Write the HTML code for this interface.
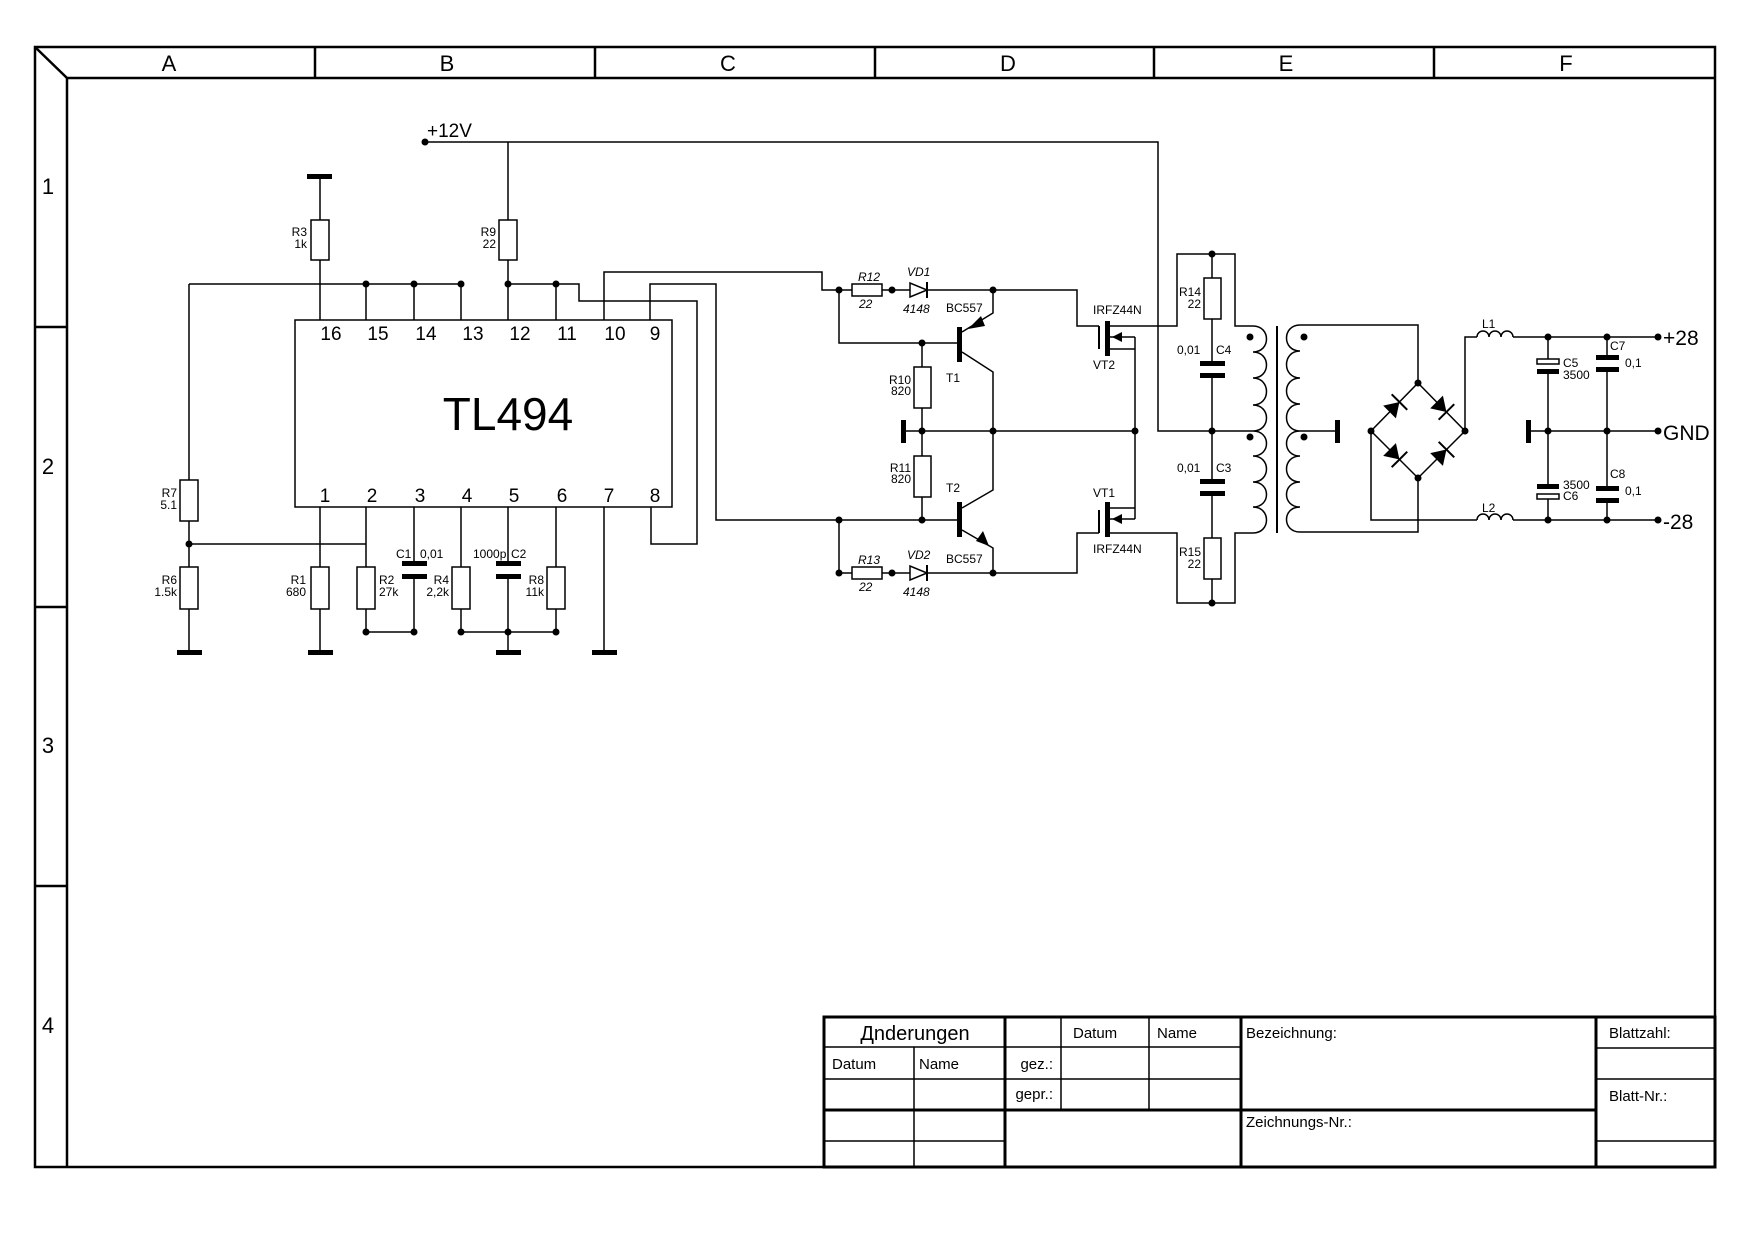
<!DOCTYPE html>
<html><head><meta charset="utf-8"><style>
html,body{margin:0;padding:0;background:#fff}
svg{display:block}
text{font-family:"Liberation Sans",sans-serif;fill:#000}
</style></head><body>
<svg width="1754" height="1240" viewBox="0 0 1754 1240" xmlns="http://www.w3.org/2000/svg">
<rect width="1754" height="1240" fill="#fff"/>
<!-- frame -->
<g stroke="#000" fill="none" stroke-width="2.5">
<rect x="35" y="47" width="1680" height="1120"/>
<line x1="67" y1="78" x2="67" y2="1167"/>
<line x1="67" y1="78" x2="1715" y2="78"/>
<line x1="35" y1="47" x2="67" y2="78"/>
<line x1="315" y1="47" x2="315" y2="78"/><line x1="595" y1="47" x2="595" y2="78"/>
<line x1="875" y1="47" x2="875" y2="78"/><line x1="1154" y1="47" x2="1154" y2="78"/>
<line x1="1434" y1="47" x2="1434" y2="78"/>
<line x1="35" y1="327" x2="67" y2="327"/><line x1="35" y1="607" x2="67" y2="607"/>
<line x1="35" y1="886" x2="67" y2="886"/>
</g>
<g font-size="22" text-anchor="middle">
<text x="169" y="71">A</text><text x="447" y="71">B</text><text x="728" y="71">C</text>
<text x="1008" y="71">D</text><text x="1286" y="71">E</text><text x="1566" y="71">F</text>
<text x="48" y="194">1</text><text x="48" y="474">2</text><text x="48" y="753">3</text><text x="48" y="1033">4</text>
</g>
<!-- title block -->
<g stroke="#000" fill="none">
<g stroke-width="3">
<rect x="824" y="1017" width="891" height="150"/>
<line x1="1005" y1="1017" x2="1005" y2="1167"/>
<line x1="1241" y1="1017" x2="1241" y2="1167"/>
<line x1="1596" y1="1017" x2="1596" y2="1167"/>
<line x1="1005" y1="1110" x2="1596" y2="1110"/>
<line x1="824" y1="1110" x2="1005" y2="1110"/>
</g>
<g stroke-width="1.5">
<line x1="824" y1="1047" x2="1241" y2="1047"/>
<line x1="824" y1="1079" x2="1241" y2="1079"/>
<line x1="824" y1="1141" x2="1005" y2="1141"/>
<line x1="914" y1="1047" x2="914" y2="1167"/>
<line x1="1061" y1="1017" x2="1061" y2="1110"/>
<line x1="1149" y1="1017" x2="1149" y2="1110"/>
<line x1="1596" y1="1048" x2="1715" y2="1048"/>
<line x1="1596" y1="1079" x2="1715" y2="1079"/>
<line x1="1596" y1="1141" x2="1715" y2="1141"/>
</g>
</g>
<g font-size="15">
<text x="915" y="1040" font-size="20" text-anchor="middle">Дnderungen</text>
<text x="832" y="1069">Datum</text><text x="919" y="1069">Name</text>
<text x="1053" y="1069" text-anchor="end">gez.:</text>
<text x="1053" y="1099" text-anchor="end">gepr.:</text>
<text x="1073" y="1038">Datum</text><text x="1157" y="1038">Name</text>
<text x="1246" y="1038">Bezeichnung:</text>
<text x="1246" y="1127">Zeichnungs-Nr.:</text>
<text x="1609" y="1038">Blattzahl:</text>
<text x="1609" y="1101">Blatt-Nr.:</text>
</g>

<!-- circuit wires -->
<g stroke="#000" fill="none" stroke-width="1.5">
<polyline points="425,142 1158,142 1158,431 1253,431"/>
<line x1="508" y1="142" x2="508" y2="220"/><line x1="508" y1="260" x2="508" y2="320"/>
<line x1="320" y1="176" x2="320" y2="220"/><line x1="320" y1="260" x2="320" y2="320"/>
<line x1="189" y1="284" x2="461" y2="284"/>
<line x1="366" y1="284" x2="366" y2="320"/><line x1="414" y1="284" x2="414" y2="320"/><line x1="461" y1="284" x2="461" y2="320"/>
<line x1="189" y1="284" x2="189" y2="480"/><line x1="189" y1="521" x2="189" y2="567"/><line x1="189" y1="609" x2="189" y2="652"/>
<line x1="189" y1="544" x2="366" y2="544"/>
<line x1="320" y1="507" x2="320" y2="567"/><line x1="320" y1="609" x2="320" y2="652"/>
<line x1="366" y1="507" x2="366" y2="567"/><polyline points="366,609 366,632 414,632"/>
<line x1="414" y1="507" x2="414" y2="564"/><line x1="414" y1="576" x2="414" y2="632"/>
<line x1="461" y1="507" x2="461" y2="567"/><polyline points="461,609 461,632 556,632"/>
<line x1="508" y1="507" x2="508" y2="564"/><line x1="508" y1="576" x2="508" y2="652"/>
<line x1="556" y1="507" x2="556" y2="567"/><line x1="556" y1="609" x2="556" y2="632"/>
<line x1="604" y1="507" x2="604" y2="652"/>
<polyline points="508,284 579,284 579,301 697,301 697,544 651,544 651,507"/>
<line x1="556" y1="284" x2="556" y2="320"/>
<polyline points="604,320 604,272 822,272 822,290 852,290"/>
<polyline points="650,320 650,284 716,284 716,520 959,520"/>
<rect x="295" y="320" width="377" height="187"/>
<!-- resistors -->
<rect x="311" y="220" width="18" height="40"/><rect x="499" y="220" width="18" height="40"/>
<rect x="180" y="480" width="18" height="41"/><rect x="180" y="567" width="18" height="42"/>
<rect x="311" y="567" width="18" height="42"/><rect x="357" y="567" width="18" height="42"/>
<rect x="452" y="567" width="18" height="42"/><rect x="547" y="567" width="18" height="42"/>
<!-- driver -->
<line x1="882" y1="290" x2="910" y2="290"/>
<polygon points="910,283 910,297 927,290"/>
<polyline points="927,290 1077,290 1077,326 1099,326"/>
<rect x="852" y="284" width="30" height="12"/>
<polyline points="839,290 839,343 959,343"/>
<polyline points="993,290 993,313 962,332"/>
<polyline points="962,352 993,372 993,431"/>
<line x1="922" y1="343" x2="922" y2="367"/><line x1="922" y1="408" x2="922" y2="456"/><line x1="922" y1="497" x2="922" y2="520"/>
<rect x="914" y="367" width="17" height="41"/><rect x="914" y="456" width="17" height="41"/>
<line x1="903" y1="431" x2="1135" y2="431"/>
<polyline points="962,508 993,490 993,431"/>
<polyline points="962,530 993,548 993,573"/>
<polyline points="839,520 839,573 852,573"/>
<rect x="852" y="567" width="30" height="12"/>
<line x1="882" y1="573" x2="910" y2="573"/>
<polygon points="910,566 910,580 927,573"/>
<polyline points="927,573 1077,573 1077,533 1099,533"/>
<line x1="1099" y1="326" x2="1099" y2="349" stroke-width="2"/>
<line x1="1099" y1="510" x2="1099" y2="533" stroke-width="2"/>
<polyline points="1107,326 1177,326 1177,254 1235,254 1235,326 1253,326"/>
<polyline points="1107,533 1177,533 1177,603 1235,603 1235,533 1253,533"/>
<line x1="1107" y1="337" x2="1135" y2="337"/><line x1="1107" y1="349" x2="1135" y2="349"/>
<line x1="1107" y1="519" x2="1135" y2="519"/><line x1="1107" y1="508" x2="1135" y2="508"/>
<line x1="1135" y1="337" x2="1135" y2="519"/>
<line x1="1212" y1="254" x2="1212" y2="278"/><rect x="1204" y="278" width="17" height="41"/>
<line x1="1212" y1="319" x2="1212" y2="364"/><line x1="1212" y1="375" x2="1212" y2="482"/>
<line x1="1212" y1="493" x2="1212" y2="538"/><rect x="1204" y="538" width="17" height="41"/>
<line x1="1212" y1="579" x2="1212" y2="603"/>
<!-- transformer -->
<path d="M1253,326 C1271,326 1271,352 1253,352 C1271,352 1271,378 1253,378 C1271,378 1271,405 1253,405 C1271,405 1271,431 1253,431 C1271,431 1271,456 1253,456 C1271,456 1271,482 1253,482 C1271,482 1271,507 1253,507 C1271,507 1271,533 1253,533"/>
<path d="M1300,325 C1282,325 1282,351 1300,351 C1282,351 1282,378 1300,378 C1282,378 1282,404 1300,404 C1282,404 1282,431 1300,431 C1282,431 1282,456 1300,456 C1282,456 1282,482 1300,482 C1282,482 1282,507 1300,507 C1282,507 1282,532 1300,532"/>
<line x1="1277" y1="326" x2="1277" y2="533" stroke-width="2"/>
<line x1="1300" y1="431" x2="1337" y2="431"/>
<polyline points="1300,325 1418,325 1418,383"/>
<polyline points="1300,532 1418,532 1418,478"/>
<polygon points="1418,383 1465,431 1418,478 1371,431"/>
<polyline points="1371,431 1371,520 1477,520"/>
<polyline points="1465,431 1465,337 1477,337"/>
<path d="M1477,337 a6,6 0 0 1 12,0 a6,6 0 0 1 12,0 a6,6 0 0 1 12,0"/>
<path d="M1477,520 a6,6 0 0 1 12,0 a6,6 0 0 1 12,0 a6,6 0 0 1 12,0"/>
<line x1="1513" y1="337" x2="1658" y2="337"/>
<line x1="1513" y1="520" x2="1658" y2="520"/>
<line x1="1528" y1="431" x2="1658" y2="431"/>
<line x1="1548" y1="337" x2="1548" y2="359"/><line x1="1548" y1="374" x2="1548" y2="484"/><line x1="1548" y1="499" x2="1548" y2="520"/>
<line x1="1607" y1="337" x2="1607" y2="355"/><line x1="1607" y1="372" x2="1607" y2="486"/><line x1="1607" y1="503" x2="1607" y2="520"/>
<rect x="1537" y="359" width="22" height="5" fill="#fff"/>
<rect x="1537" y="494" width="22" height="5" fill="#fff"/>
</g>
<!-- thick parts -->
<g fill="#000">
<rect x="307" y="174" width="25" height="5"/><rect x="177" y="650" width="25" height="5"/>
<rect x="308" y="650" width="25" height="5"/><rect x="496" y="650" width="25" height="5"/>
<rect x="592" y="650" width="25" height="5"/>
<rect x="402" y="561" width="25" height="5"/><rect x="402" y="574" width="25" height="5"/>
<rect x="496" y="561" width="25" height="5"/><rect x="496" y="574" width="25" height="5"/>
<rect x="957" y="327" width="5" height="35"/><rect x="957" y="502" width="5" height="35"/>
<rect x="901" y="420" width="5" height="23"/>
<rect x="1105" y="321" width="5" height="35"/><rect x="1105" y="502" width="5" height="35"/>
<rect x="1200" y="361" width="25" height="5"/><rect x="1200" y="373" width="25" height="5"/>
<rect x="1200" y="479" width="25" height="5"/><rect x="1200" y="491" width="25" height="5"/>
<rect x="1335" y="420" width="5" height="23"/><rect x="1526" y="420" width="5" height="23"/>
<rect x="1537" y="369" width="22" height="5"/><rect x="1537" y="484" width="22" height="5"/>
<rect x="1596" y="355" width="23" height="5"/><rect x="1596" y="367" width="23" height="5"/>
<rect x="1596" y="486" width="23" height="5"/><rect x="1596" y="498" width="23" height="5"/>
<polygon points="968,329 981,316 985,326"/>
<polygon points="989,546 976,541 983,531"/>
<polygon points="1112,337 1122,332 1122,342"/>
<polygon points="1112,519 1122,514 1122,524"/>
<g transform="translate(1394.5,407) rotate(-45)"><polygon points="-7,-9 -7,9 7,0"/><rect x="6" y="-11" width="2" height="22"/></g>
<g transform="translate(1441.5,407) rotate(45)"><polygon points="-7,-9 -7,9 7,0"/><rect x="6" y="-11" width="2" height="22"/></g>
<g transform="translate(1394.5,454.5) rotate(45)"><polygon points="-7,-9 -7,9 7,0"/><rect x="6" y="-11" width="2" height="22"/></g>
<g transform="translate(1441.5,454.5) rotate(-45)"><polygon points="-7,-9 -7,9 7,0"/><rect x="6" y="-11" width="2" height="22"/></g>
<rect x="926" y="282" width="2" height="16"/><rect x="926" y="565" width="2" height="16"/>
<g>
<circle cx="425" cy="142" r="3.5"/>
<circle cx="366" cy="284" r="3.5"/><circle cx="414" cy="284" r="3.5"/><circle cx="461" cy="284" r="3.5"/>
<circle cx="508" cy="284" r="3.5"/><circle cx="556" cy="284" r="3.5"/>
<circle cx="189" cy="544" r="3.5"/>
<circle cx="366" cy="632" r="3.5"/><circle cx="414" cy="632" r="3.5"/>
<circle cx="461" cy="632" r="3.5"/><circle cx="508" cy="632" r="3.5"/><circle cx="556" cy="632" r="3.5"/>
<circle cx="839" cy="290" r="3.5"/><circle cx="892" cy="290" r="3.5"/><circle cx="993" cy="290" r="3.5"/>
<circle cx="922" cy="343" r="3.5"/><circle cx="922" cy="431" r="3.5"/><circle cx="993" cy="431" r="3.5"/>
<circle cx="1135" cy="431" r="3.5"/><circle cx="839" cy="520" r="3.5"/><circle cx="922" cy="520" r="3.5"/>
<circle cx="839" cy="573" r="3.5"/><circle cx="892" cy="573" r="3.5"/><circle cx="993" cy="573" r="3.5"/>
<circle cx="1212" cy="254" r="3.5"/><circle cx="1212" cy="431" r="3.5"/><circle cx="1212" cy="603" r="3.5"/>
<circle cx="1250" cy="337" r="3.5"/><circle cx="1250" cy="437" r="3.5"/>
<circle cx="1304" cy="337" r="3.5"/><circle cx="1304" cy="437" r="3.5"/>
<circle cx="1418" cy="383" r="3.5"/><circle cx="1418" cy="478" r="3.5"/>
<circle cx="1371" cy="431" r="3.5"/><circle cx="1465" cy="431" r="3.5"/>
<circle cx="1548" cy="337" r="3.5"/><circle cx="1607" cy="337" r="3.5"/><circle cx="1658" cy="337" r="3.5"/>
<circle cx="1548" cy="431" r="3.5"/><circle cx="1607" cy="431" r="3.5"/><circle cx="1658" cy="431" r="3.5"/>
<circle cx="1548" cy="520" r="3.5"/><circle cx="1607" cy="520" r="3.5"/><circle cx="1658" cy="520" r="3.5"/>
</g>
</g>
<!-- labels -->
<text x="427" y="137" font-size="19">+12V</text>
<text x="508" y="430" font-size="46" text-anchor="middle">TL494</text>
<g font-size="19" text-anchor="middle">
<text x="331" y="340">16</text><text x="378" y="340">15</text><text x="426" y="340">14</text><text x="473" y="340">13</text>
<text x="520" y="340">12</text><text x="567" y="340">11</text><text x="615" y="340">10</text><text x="655" y="340">9</text>
<text x="325" y="502">1</text><text x="372" y="502">2</text><text x="420" y="502">3</text><text x="467" y="502">4</text>
<text x="514" y="502">5</text><text x="562" y="502">6</text><text x="609" y="502">7</text><text x="655" y="502">8</text>
</g>
<g font-size="12">
<g text-anchor="end">
<text x="307" y="236">R3</text><text x="307" y="248">1k</text>
<text x="496" y="236">R9</text><text x="496" y="248">22</text>
<text x="177" y="497">R7</text><text x="177" y="509">5.1</text>
<text x="177" y="584">R6</text><text x="177" y="596">1.5k</text>
<text x="306" y="584">R1</text><text x="306" y="596">680</text>
<text x="449" y="584">R4</text><text x="449" y="596">2,2k</text>
<text x="544" y="584">R8</text><text x="544" y="596">11k</text>
<text x="911" y="384">R10</text><text x="911" y="395">820</text>
<text x="911" y="472">R11</text><text x="911" y="483">820</text>
<text x="1201" y="296">R14</text><text x="1201" y="308">22</text>
<text x="1201" y="556">R15</text><text x="1201" y="568">22</text>
</g>
<text x="379" y="584">R2</text><text x="379" y="596">27k</text>
<text x="396" y="558">C1</text><text x="420" y="558">0,01</text>
<text x="473" y="558">1000p</text><text x="511" y="558">C2</text>
<g font-style="italic">
<text x="858" y="281">R12</text><text x="859" y="308">22</text>
<text x="907" y="276">VD1</text><text x="903" y="313">4148</text>
<text x="858" y="564">R13</text><text x="859" y="591">22</text>
<text x="907" y="559">VD2</text><text x="903" y="596">4148</text>
</g>
<text x="946" y="312">BC557</text><text x="946" y="382">T1</text>
<text x="946" y="492">T2</text><text x="946" y="563">BC557</text>
<text x="1093" y="314">IRFZ44N</text><text x="1093" y="369">VT2</text>
<text x="1093" y="497">VT1</text><text x="1093" y="553">IRFZ44N</text>
<text x="1177" y="354">0,01</text><text x="1216" y="354">C4</text>
<text x="1177" y="472">0,01</text><text x="1216" y="472">C3</text>
<text x="1482" y="328">L1</text><text x="1482" y="512">L2</text>
<text x="1563" y="367">C5</text><text x="1563" y="379">3500</text>
<text x="1563" y="489">3500</text><text x="1563" y="500">C6</text>
<text x="1610" y="350">C7</text><text x="1625" y="367">0,1</text>
<text x="1610" y="478">C8</text><text x="1625" y="495">0,1</text>
</g>
<g font-size="21">
<text x="1663" y="345">+28</text><text x="1663" y="440">GND</text><text x="1663" y="529">-28</text>
</g>
</svg>
</body></html>
